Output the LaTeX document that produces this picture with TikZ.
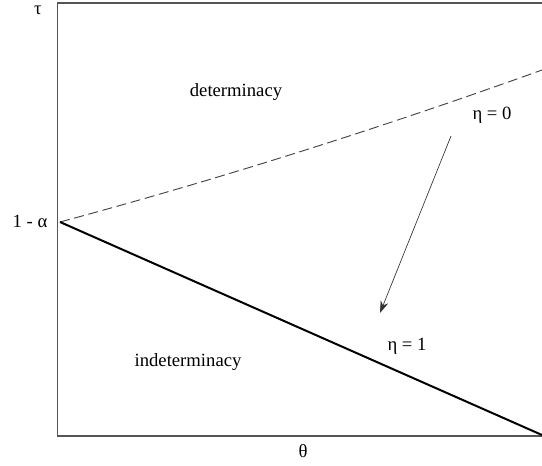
\documentclass[tikz,border=0pt]{standalone}
\usepackage{fontspec}
\setmainfont{Liberation Serif}
\usetikzlibrary{arrows.meta}
\definecolor{frame}{HTML}{555555}
\definecolor{curve}{HTML}{444444}
\tikzset{lab/.style={font=\fontsize{14}{16}\selectfont,inner sep=0pt},axis/.style={draw=frame,line width=0.8pt},arrow/.style={-{Stealth[length=9pt,width=6pt]},line width=0.5pt,draw=black!80},bound/.style={line width=1.5pt},loose/.style={draw=curve,line width=0.7pt,dash pattern=on 7.5pt off 3.5pt}}

\begin{document}
\begin{tikzpicture}[x=0.75pt,y=-0.75pt]
\useasboundingbox (0,0) rectangle (542,465);
\coordinate (tr) at (542,3);
\coordinate (tl) at (57.5,3);
\coordinate (bl) at (57.5,436);
\coordinate (br) at (542,436);
\coordinate (o) at (60,222);
\coordinate (up) at (542,70);
\coordinate (dn) at (542,435);
\coordinate (from) at (451,136);
\coordinate (to) at (380,313);
\draw[axis](tr)--(tl)--(bl)--(br);
\node[lab] (tau) at (38,10) {τ};
\node[lab] (theta) at (303,451) {θ};
\node[lab] (one) at (30,221) {1 - α};
\node[lab] (det) at (236,92) {determinacy};
\node[lab] (ind) at (188,362) {indeterminacy};
\node[lab] (e0) at (492,115) {η = 0};
\node[lab] (e1) at (407,346) {η = 1};
\draw[loose](o) .. controls (220.7,178.6) and (381.3,127.8) .. (up);
\draw[bound](o)--(dn);
\draw[arrow](from)--(to);
\end{tikzpicture}
\end{document}
